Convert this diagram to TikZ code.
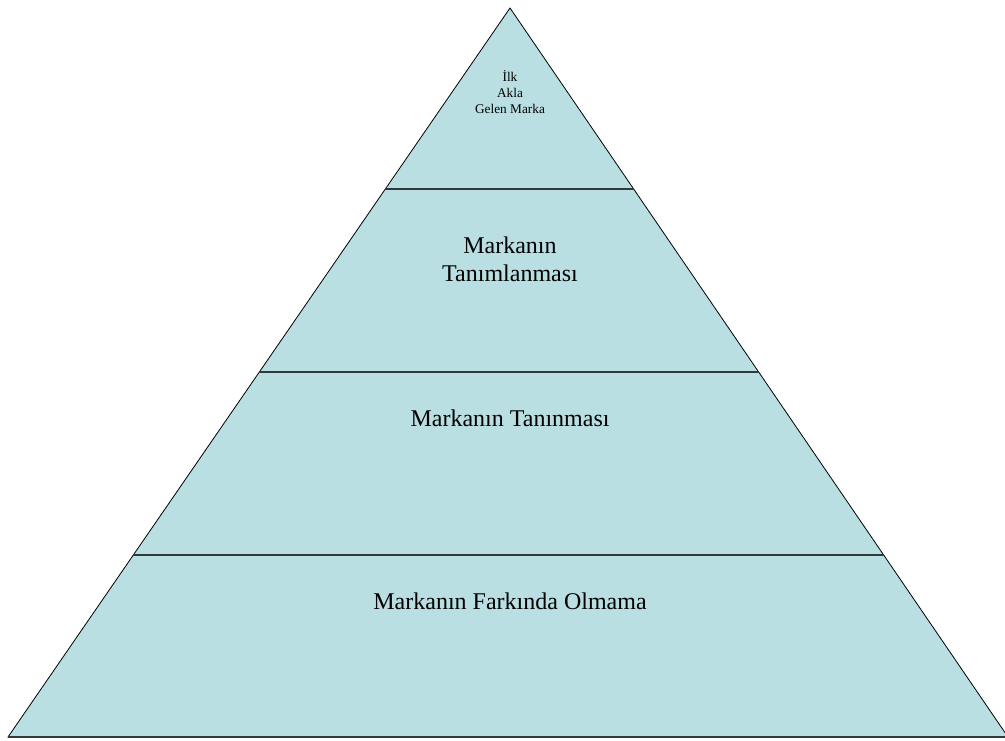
\documentclass[tikz,border=0pt]{standalone}
\usepackage{fontspec}
\setmainfont{Liberation Serif}
\usetikzlibrary{calc}
\definecolor{pyrfill}{HTML}{B9DFE3}
\definecolor{sepline}{HTML}{2F3B3B}
\tikzset{
  lbl/.style={align=center, inner sep=0pt, font=\fontsize{24}{27.6}\selectfont},
  small/.style={align=center, inner sep=0pt, font=\fontsize{13.3}{16}\selectfont},
  sep/.style={draw=sepline, line width=1.5pt},
}
\begin{document}
\begin{tikzpicture}[x=1pt,y=1pt]
\useasboundingbox (0,0) rectangle (1005,740);
\clip (0,0) rectangle (1005,740);
\coordinate (A) at (510,732);
\coordinate (L) at (8,3);
\coordinate (R) at (1008,3);
\filldraw[fill=pyrfill, draw=black, line width=0.8pt] (L) -- (A) -- (R) -- cycle;
\draw[sep] (L) -- (R);
\coordinate (l1) at ($(L)!0.7517!(A)$);
\coordinate (r1) at ($(R)!0.7517!(A)$);
\coordinate (l2) at ($(L)!0.5007!(A)$);
\coordinate (r2) at ($(R)!0.5007!(A)$);
\coordinate (l3) at ($(L)!0.2497!(A)$);
\coordinate (r3) at ($(R)!0.2497!(A)$);
\draw[sep] (l1) -- (r1);
\draw[sep] (l2) -- (r2);
\draw[sep] (l3) -- (r3);
\node[small] (t1) at (510,648) {İlk\\Akla\\Gelen Marka};
\node[lbl] (t2) at (510,481) {Markanın\\Tanımlanması};
\node[lbl] (t3) at (510,322) {Markanın Tanınması};
\node[lbl] (t4) at (510,139) {Markanın Farkında Olmama};
\end{tikzpicture}
\end{document}
